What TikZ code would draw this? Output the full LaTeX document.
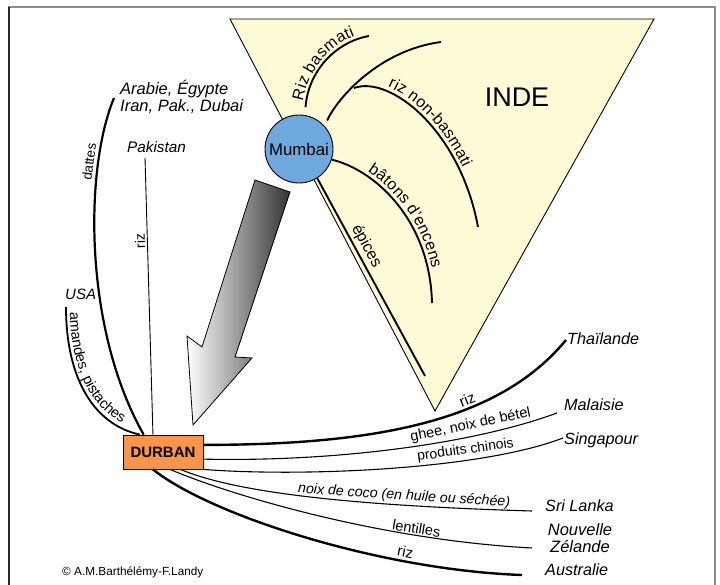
\documentclass[tikz,border=0pt]{standalone}
\usepackage{fontspec}
\setmainfont{Liberation Sans}
\usetikzlibrary{decorations.text}
\definecolor{indeyellow}{HTML}{FFFBD7}
\definecolor{mumbaiblue}{HTML}{6FA8DC}
\definecolor{durbanorange}{HTML}{F7954A}
\definecolor{framegray}{HTML}{8C8C8C}
\newcommand\fsz[1]{\fontsize{#1}{#1}\selectfont}
\begin{document}
\begin{tikzpicture}[x=1pt,y=-1pt,
  country/.style={inner sep=0pt, anchor=west, font=\fontsize{16.2}{17}\selectfont\itshape},
  lab/.style={sloped, inner sep=1pt, font=\fsz{14.5}},
  heavy/.style={line width=2.4pt},
  medium/.style={line width=1.9pt},
  light/.style={line width=1.1pt}]
\useasboundingbox (0,0) rectangle (720,585);
% frame
\draw[framegray, line width=2pt] (8,7.5) -- (716,7.5);
\draw[black!85, line width=1.5pt] (9,7) -- (9,585);
\draw[framegray, line width=2pt] (715,7) -- (715,585);
% India triangle
\filldraw[fill=indeyellow, draw=black, line width=0.9pt] (230,19) -- (654,19) -- (435,411) -- cycle;
\node[font=\fsz{27}, inner sep=0pt] (inde) at (517,97) {INDE};
% big arrow
\shadedraw[draw=black, line width=0.8pt, left color=white, right color=black!80]
  (255,180) -- (290,192) -- (235,357) -- (252,358) -- (193,425) -- (187,336) -- (202,347) -- cycle;
% cities
\node[circle, draw, line width=0.9pt, fill=mumbaiblue, minimum size=68pt, inner sep=0pt, font=\fsz{16.8}] (mumbai) at (299,149) {Mumbai};
\node[draw, line width=0.8pt, fill=durbanorange, minimum width=80pt, minimum height=34pt, inner sep=0pt, font=\fsz{15}\bfseries] (durban) at (163,452) {DURBAN};
% free ends
\coordinate (rb-end) at (369,36);
\coordinate (nba-end) at (441,42);
\coordinate (nb-branch) at (354,88);
\coordinate (nbb-end) at (478,227);
\coordinate (bat-end) at (432,303);
\coordinate (ep-end) at (425,376);
\coordinate (dat-end) at (114,98);
\coordinate (pak-end) at (145,158);
\coordinate (usa-end) at (66,307);
\coordinate (thai-end) at (566,340);
\coordinate (mal-end) at (557,413);
\coordinate (sin-end) at (563,438);
\coordinate (sri-end) at (532,511);
\coordinate (nz-end) at (532,548);
\coordinate (aus-end) at (522,575);
% exports of Mumbai
\draw[medium, shorten <=8pt, postaction={decorate, decoration={text along path, text align=center, raise=4pt, text={|\fsz{16}|Riz basmati}}}]
  (mumbai.80) .. controls (308,72) and (335,42) .. (rb-end);
\draw[medium, shorten <=6pt] (mumbai.42) .. controls (338,97) and (380,50) .. (nba-end);
\draw[medium, postaction={decorate, decoration={text along path, text align={left indent=33pt}, raise=4pt, text={|\fsz{16}|riz non-basmati}}}]
  (nb-branch) .. controls (390,75) and (460,130) .. (nbb-end);
\draw[medium, postaction={decorate, decoration={text along path, text align={left indent=37pt}, raise=4pt, text={|\fsz{16}|bâtons d'encens}}}]
  (mumbai.-18) .. controls (375,170) and (430,220) .. (bat-end);
\draw[medium] (mumbai.-58) -- (ep-end) node[lab, pos=0.37, above=1pt, font=\fsz{16}] (lep) {épices};
% imports of Durban, left
\draw[line width=2.2pt] (durban.138) .. controls (84,330) and (84,170) .. (dat-end)
  node[lab, pos=0.76, above=2pt, font=\fsz{13.5}] (ldat) {dattes};
\draw[line width=0.9pt] (durban.120) -- (pak-end)
  node[lab, allow upside down, pos=0.7, above=1pt, font=\fsz{14}] (lrizp) {riz};
\draw[line width=1.8pt] (usa-end) .. controls (66,380) and (95,425) .. (durban.143);
\path[postaction={decorate, decoration={text along path, text align={left indent=4pt}, raise=0pt, text={|\fsz{14.5}|amandes, pistaches}}}]
  (70,308) .. controls (70,378) and (98,421) .. (142,430);
% imports of Durban, right
\draw[heavy] (durban.10) .. controls (380,445) and (500,420) .. (thai-end)
  node[lab, pos=0.63, above=1pt, font=\fsz{15}] (lrizt) {riz};
\draw[light] (durban.-10) .. controls (330,462) and (470,445) .. (mal-end)
  node[lab, pos=0.72, above=3pt] (lghee) {ghee, noix de bétel};
\draw[light] (durban.south east) .. controls (300,477) and (480,470) .. (sin-end)
  node[lab, pos=0.7, above=2pt, font=\fsz{14}] (lprod) {produits chinois};
\draw[light] (durban.-45) .. controls (230,490) and (330,505) .. (sri-end)
  node[lab, pos=0.76, above=1pt, font=\fsz{14.2}\itshape] (lcoco) {noix de coco (en huile ou séchée)};
\draw[light] (durban.-68) .. controls (230,495) and (380,540) .. (nz-end)
  node[lab, pos=0.74, above=0pt] (llent) {lentilles};
\draw[heavy] (durban.-120) .. controls (210,515) and (380,570) .. (aus-end)
  node[lab, pos=0.73, above=2pt, font=\fsz{15}] (lriza) {riz};
% countries
\node[country, align=left, font=\fontsize{16.5}{17}\selectfont\itshape] (arabie) at (120,97) {Arabie, Égypte\\Iran, Pak., Dubai};
\node[country, font=\fsz{15.3}\itshape] (pakistan) at (127,147) {Pakistan};
\node[country, font=\fsz{15}\itshape] (usa) at (65,294) {USA};
\node[country] (thai) at (567,339) {Thaïlande};
\node[country] (malaisie) at (564,405) {Malaisie};
\node[country] (singapour) at (564,440) {Singapour};
\node[country] (srilanka) at (545,505.5) {Sri Lanka};
\node[country, anchor=center, align=center, font=\fontsize{16.5}{17}\selectfont\itshape] (nz) at (580,538) {Nouvelle\\Zélande};
\node[country] (australie) at (545,570) {Australie};
\node[inner sep=0pt, anchor=west, font=\fsz{11.8}] (copy) at (62,572) {© A.M.Barthélémy-F.Landy};
\end{tikzpicture}
\end{document}
